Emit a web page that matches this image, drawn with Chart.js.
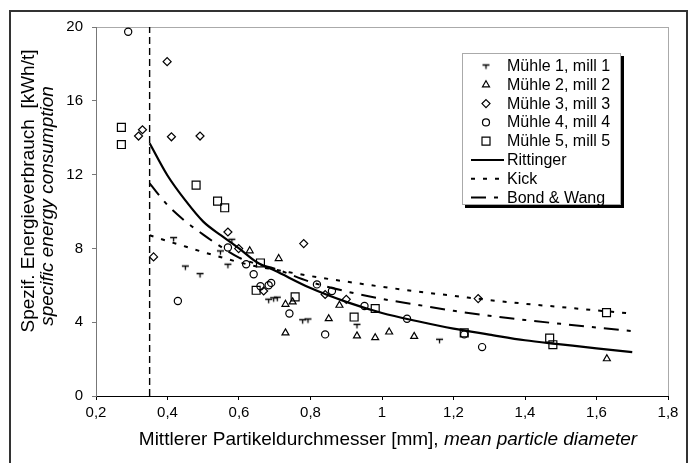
<!DOCTYPE html>
<html>
<head>
<meta charset="utf-8">
<script src="https://cdn.jsdelivr.net/npm/chart.js@4"></script>
<style>
  html, body { margin: 0; padding: 0; background: #fff; }
  #wrap { width: 694px; height: 463px; position: relative; }
</style>
</head>
<body>
<div id="wrap"><canvas id="chart" width="694" height="463"></canvas></div>
<script>
// ===== Data =====

const mill1X = [0.417, 0.450, 0.491, 0.548, 0.580, 0.569, 0.683, 0.697, 0.707, 0.778, 0.793, 0.930, 1.161];
const mill1Y = [8.53, 6.99, 6.58, 7.81, 8.44, 7.09, 5.19, 5.27, 5.30, 4.08, 4.12, 3.83, 3.02];

const mill2X = [0.630, 0.711, 0.730, 0.750, 0.730, 0.851, 0.881, 0.930, 0.981, 1.020, 1.090, 1.629];
const mill2Y = [7.87, 7.45, 4.97, 5.10, 3.42, 4.19, 4.92, 3.26, 3.16, 3.47, 3.23, 2.02];

const mill3X = [0.319, 0.330, 0.399, 0.411, 0.491, 0.361, 0.569, 0.599, 0.669, 0.781, 0.841, 0.900, 1.269];
const mill3Y = [14.09, 14.43, 18.12, 14.05, 14.09, 7.54, 8.89, 7.99, 5.69, 8.26, 5.50, 5.24, 5.28];

const mill4X = [0.290, 0.429, 0.569, 0.620, 0.641, 0.660, 0.683, 0.690, 0.741, 0.818, 0.860, 0.841, 0.951, 1.070, 1.230, 1.280];
const mill4Y = [19.74, 5.15, 8.05, 7.14, 6.60, 5.95, 6.00, 6.13, 4.47, 6.05, 5.69, 3.34, 4.88, 4.19, 3.34, 2.65];

const mill5X = [0.271, 0.271, 0.480, 0.540, 0.560, 0.660, 0.648, 0.757, 0.922, 0.981, 1.230, 1.469, 1.478, 1.628];
const mill5Y = [14.56, 13.63, 11.43, 10.56, 10.20, 7.21, 5.73, 5.37, 4.28, 4.74, 3.42, 3.14, 2.78, 4.52];

const curveX     = [0.35, 0.40, 0.45, 0.50, 0.55, 0.60, 0.65, 0.70, 0.80, 0.90, 1.00, 1.10, 1.20, 1.30, 1.40, 1.50, 1.60, 1.70];
const rittingerY = [13.7, 11.95, 10.6, 9.45, 8.7, 8.0, 7.25, 6.8, 5.85, 5.1, 4.5, 4.05, 3.65, 3.33, 3.02, 2.8, 2.58, 2.38];
const kickY      = [8.71, 8.4, 8.1, 7.8, 7.52, 7.25, 7.02, 6.85, 6.5, 6.2, 5.92, 5.66, 5.43, 5.2, 5.0, 4.82, 4.64, 4.47];
const bondY      = [11.52, 10.35, 9.47, 8.75, 8.08, 7.5, 7.15, 6.9, 6.18, 5.67, 5.26, 4.94, 4.62, 4.35, 4.12, 3.91, 3.71, 3.52];

const cutoffX = 0.35;
const yRange = [0, 20];

const millLabels = ['Mühle 1, mill 1', 'Mühle 2, mill 2', 'Mühle 3, mill 3', 'Mühle 4, mill 4', 'Mühle 5, mill 5'];
const curveLabels = ['Rittinger', 'Kick', 'Bond & Wang'];

// ===== Helpers =====

const FONT = "'Liberation Sans', Arial, sans-serif";
const TITLE_SIZE = 19;

function pts(xs, ys) {
  return xs.map((x, i) => ({ x, y: ys[i] }));
}

function fmtTick(v) {
  return String(Math.round(v * 10) / 10).replace('.', ',');
}

// the "T" marker of mill 1
function makeTee() {
  const c = document.createElement('canvas');
  c.width = 9; c.height = 9;
  const g = c.getContext('2d');
  g.strokeStyle = '#000';
  g.lineWidth = 1.3;
  g.beginPath();
  g.moveTo(1, 3.5); g.lineTo(8, 3.5);
  g.moveTo(4.5, 3.5); g.lineTo(4.5, 7.5);
  g.stroke();
  return c;
}
const tee = makeTee();

const markerBase = { showLine: false, borderColor: '#000', backgroundColor: 'transparent', pointBorderWidth: 1.2 };

const dashKick = [4, 8];
const dashBond = [15, 8, 4, 8];

// ===== Plugins =====

const framePlugin = {
  id: 'frame',
  beforeDraw(chart) {
    const ctx = chart.ctx;
    const a = chart.chartArea;
    ctx.save();
    ctx.fillStyle = '#fff';
    ctx.fillRect(0, 0, chart.width, chart.height);
    ctx.strokeStyle = '#333';
    ctx.lineWidth = 2;
    ctx.strokeRect(10, 11, 677, 470);
    ctx.strokeStyle = '#aaa';
    ctx.lineWidth = 1;
    ctx.strokeRect(a.left + 0.5, a.top + 0.5, a.right - a.left, a.bottom - a.top);
    ctx.restore();
  }
};

const titlePlugin = {
  id: 'titles',
  afterDraw(chart) {
    const ctx = chart.ctx;
    ctx.save();
    ctx.fillStyle = '#000';
    ctx.textBaseline = 'middle';

    // y title, two lines
    ctx.textAlign = 'center';
    ctx.save();
    ctx.translate(29, 191);
    ctx.rotate(-Math.PI / 2);
    ctx.font = TITLE_SIZE + 'px ' + FONT;
    ctx.fillText('Spezif. Energieverbrauch  [kWh/t]', 0, 0);
    ctx.restore();
    ctx.save();
    ctx.translate(48, 206);
    ctx.rotate(-Math.PI / 2);
    ctx.font = 'italic ' + TITLE_SIZE + 'px ' + FONT;
    ctx.fillText('specific energy consumption', 0, 0);
    ctx.restore();

    // x title, plain + italic part
    const p1 = 'Mittlerer Partikeldurchmesser [mm], ';
    const p2 = 'mean particle diameter';
    ctx.font = TITLE_SIZE + 'px ' + FONT;
    const w1 = ctx.measureText(p1).width;
    ctx.font = 'italic ' + TITLE_SIZE + 'px ' + FONT;
    const w2 = ctx.measureText(p2).width;
    const x0 = 388 - (w1 + w2) / 2;
    ctx.textAlign = 'left';
    ctx.font = TITLE_SIZE + 'px ' + FONT;
    ctx.fillText(p1, x0, 440);
    ctx.font = 'italic ' + TITLE_SIZE + 'px ' + FONT;
    ctx.fillText(p2, x0 + w1, 440);
    ctx.restore();
  }
};

function drawMarker(ctx, kind, x, y) {
  ctx.beginPath();
  if (kind === 'tee') { ctx.drawImage(tee, x - 4.5, y - 4.5); return; }
  if (kind === 'triangle') {
    ctx.moveTo(x, y - 4); ctx.lineTo(x + 3.5, y + 2); ctx.lineTo(x - 3.5, y + 2); ctx.closePath();
  } else if (kind === 'rectRot') {
    ctx.moveTo(x, y - 4); ctx.lineTo(x + 4, y); ctx.lineTo(x, y + 4); ctx.lineTo(x - 4, y); ctx.closePath();
  } else if (kind === 'circle') {
    ctx.arc(x, y, 3.5, 0, Math.PI * 2);
  } else if (kind === 'rect') {
    ctx.rect(x - 4, y - 4, 8, 8);
  }
  ctx.stroke();
}

const legendPlugin = {
  id: 'boxLegend',
  afterDraw(chart) {
    const ctx = chart.ctx;
    const L = 462, T = 53, R = 621, B = 205;
    ctx.save();
    // shadow
    ctx.fillStyle = '#000';
    ctx.fillRect(L + 3, T + 3, R - L, B - T);
    ctx.fillStyle = '#fff';
    ctx.fillRect(L, T, R - L, B - T);
    ctx.strokeStyle = '#aaa';
    ctx.lineWidth = 1;
    ctx.strokeRect(L + 0.5, T + 0.5, R - L - 1, B - T - 1);

    const kinds = ['tee', 'triangle', 'rectRot', 'circle', 'rect'];
    const labels = millLabels.concat(curveLabels);
    ctx.font = '16px ' + FONT;
    ctx.textBaseline = 'middle';
    ctx.textAlign = 'left';
    ctx.strokeStyle = '#000';
    ctx.fillStyle = '#000';
    labels.forEach((lab, i) => {
      const y = 66 + i * 18.8;
      if (i < 5) {
        ctx.lineWidth = 1.2;
        ctx.setLineDash([]);
        drawMarker(ctx, kinds[i], 486, y);
      } else {
        ctx.lineWidth = 2;
        ctx.setLineDash(i === 5 ? [] : i === 6 ? dashKick : dashBond);
        ctx.beginPath();
        ctx.moveTo(471, y); ctx.lineTo(504, y);
        ctx.stroke();
        ctx.setLineDash([]);
      }
      ctx.fillText(lab, 507, y + 0.5);
    });
    ctx.restore();
  }
};

// ===== Chart =====

const datasets = [
  { ...markerBase, label: millLabels[0], data: pts(mill1X, mill1Y), pointStyle: tee, pointRadius: 4.5 },
  { ...markerBase, label: millLabels[1], data: pts(mill2X, mill2Y), pointStyle: 'triangle', pointRadius: 4 },
  { ...markerBase, label: millLabels[2], data: pts(mill3X, mill3Y), pointStyle: 'rectRot', pointRadius: 4 },
  { ...markerBase, label: millLabels[3], data: pts(mill4X, mill4Y), pointStyle: 'circle', pointRadius: 3.6 },
  { ...markerBase, label: millLabels[4], data: pts(mill5X, mill5Y), pointStyle: 'rect', pointRadius: 5.6 },
  { label: curveLabels[0], data: pts(curveX, rittingerY), showLine: true, borderColor: '#000', borderWidth: 2.2,
    pointRadius: 0, cubicInterpolationMode: 'monotone' },
  { label: curveLabels[1], data: pts(curveX, kickY), showLine: true, borderColor: '#000', borderWidth: 2,
    borderDash: dashKick, pointRadius: 0, cubicInterpolationMode: 'monotone' },
  { label: curveLabels[2], data: pts(curveX, bondY), showLine: true, borderColor: '#000', borderWidth: 2,
    borderDash: dashBond, pointRadius: 0, cubicInterpolationMode: 'monotone' },
  { label: 'cutoff', data: [{ x: cutoffX, y: yRange[0] }, { x: cutoffX, y: yRange[1] }], showLine: true,
    borderColor: '#000', borderWidth: 1.4, borderDash: [7, 4], pointRadius: 0 }
];

new Chart(document.getElementById('chart').getContext('2d'), {
  type: 'scatter',
  data: { datasets },
  options: {
    responsive: false,
    animation: false,
    devicePixelRatio: 1,
    layout: { padding: { left: 0, top: 27, right: 26, bottom: 0 } },
    plugins: {
      legend: { display: false },
      tooltip: { enabled: false }
    },
    scales: {
      x: {
        type: 'linear', min: 0.2, max: 1.8,
        ticks: { stepSize: 0.2, color: '#000', padding: 4, font: { family: FONT, size: 15 }, callback: fmtTick },
        grid: { drawOnChartArea: false, drawTicks: true, tickLength: 4, color: '#000' },
        border: { color: '#000', width: 1 },
        afterFit: s => { s.height = 67; }
      },
      y: {
        min: yRange[0], max: yRange[1],
        ticks: { stepSize: 4, color: '#000', padding: 9, font: { family: FONT, size: 15 } },
        grid: { drawOnChartArea: false, drawTicks: true, tickLength: 4, color: '#777' },
        border: { color: '#777', width: 1 },
        afterFit: s => { s.width = 96; }
      }
    }
  },
  plugins: [framePlugin, titlePlugin, legendPlugin]
});
</script>
</body>
</html>
